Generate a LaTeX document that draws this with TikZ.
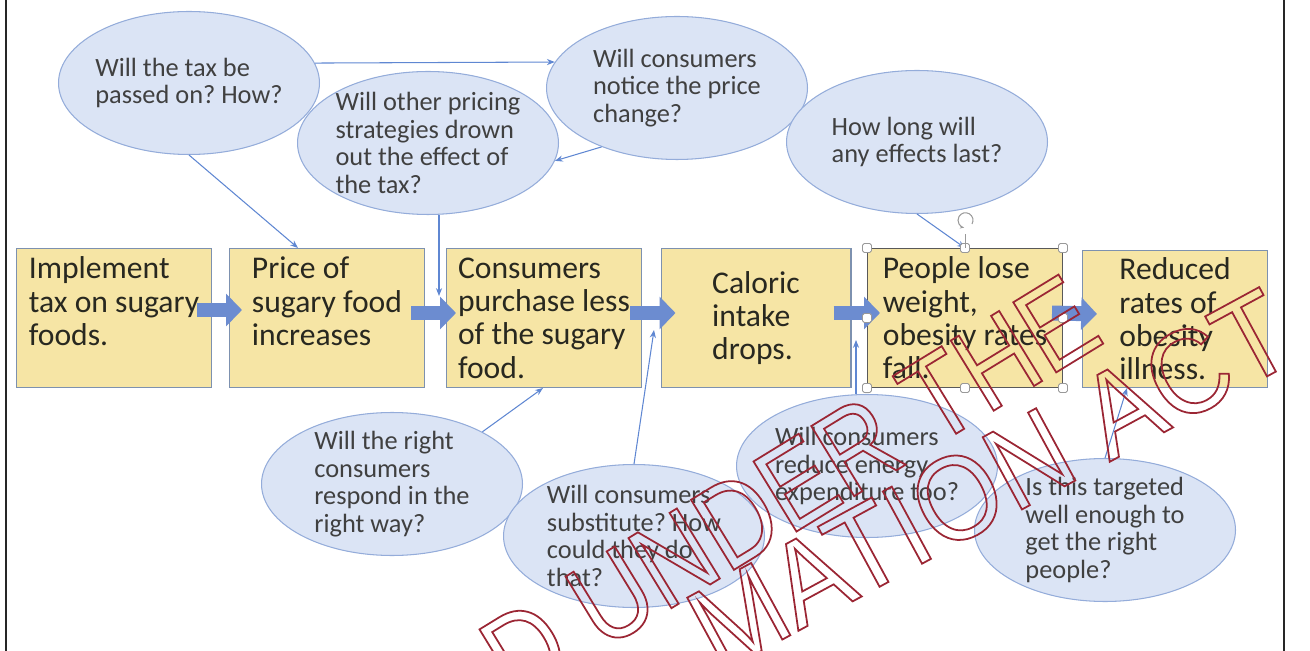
\documentclass[tikz,border=0pt]{standalone}
\usepackage{fontspec}
\setmainfont{Carlito}
\newfontfamily\stampfont[FakeStretch=0.85]{Liberation Sans}
\newfontfamily\stampwide[FakeStretch=0.91]{Liberation Sans}
\usetikzlibrary{positioning,arrows.meta,shapes.geometric,calc}

\definecolor{boxfill}{RGB}{246,229,165}
\definecolor{boxline}{RGB}{125,145,175}
\definecolor{bubblefill}{RGB}{219,228,245}
\definecolor{bubbleline}{RGB}{148,172,218}
\definecolor{flowblue}{RGB}{108,140,208}
\definecolor{linkblue}{RGB}{95,135,210}
\definecolor{stampred}{RGB}{155,38,52}
\definecolor{inkgrey}{RGB}{40,40,32}

% stroked (hollow) letters for the stamp
\newcommand\hollow[1]{\special{pdf:literal direct 1 Tr 1 w}#1\special{pdf:literal direct 0 Tr}}

\begin{document}
\frenchspacing
\begin{tikzpicture}[x=0.02cm,y=-0.02cm,
   stepbox/.style={draw=boxline,fill=boxfill,line width=0.6pt,minimum width=3.9cm,
     minimum height=2.78cm,inner sep=0pt,align=left,text=inkgrey,
     font=\fontsize{18}{19}\selectfont},
   question/.style={ellipse,draw=bubbleline,fill=bubblefill,line width=0.6pt,
     minimum width=5.22cm,minimum height=2.86cm,inner sep=-5pt,align=left,
     text=black!75,font=\fontsize{15}{15.8}\selectfont},
   flow/.style={draw=flowblue,line width=8.5pt,-{Triangle[length=9pt,width=18pt]}},
   link/.style={draw=linkblue,line width=0.6pt,-{Stealth[length=4.5pt,width=3.5pt]}},
   grip/.style={draw=gray!80,fill=white,line width=0.5pt,rounded corners=1pt,
     minimum size=0.18cm,inner sep=0pt},
   stamp/.style={text=stampred,inner sep=0pt,font=\stampfont\fontsize{68}{68}\selectfont}]
  \useasboundingbox (0,0) rectangle (1310,651);

  % page frame
  \draw[black!85,line width=1.2pt] (6,0) -- (6,651);
  \draw[black!85,line width=1.2pt] (1284,0) -- (1284,651);

  % questions above the chain
  \node[question] (e1) at (189,83)  {Will the tax be\\passed on? How?};
  \node[question] (e2) at (428,143) {Will other pricing\\strategies drown\\out the effect of\\the tax?};
  \node[question] (e3) at (677,88)  {Will consumers\\notice the price\\change?};
  \node[question] (e4) at (917,142) {How long will\\any effects last?};

  % questions below the chain
  \node[question] (e5) at (392,484) {Will the right\\consumers\\respond in the\\right way?};
  \node[question] (e7) at (867,466) {Will consumers\\reduce energy\\expenditure too?};
  \node[question] (e6) at (634,536) {Will consumers\\substitute? How\\could they do\\that?};
  \node[question] (e8) at (1105,530) {Is this targeted\\well enough to\\get the right\\people?};

  % the causal chain
  \node[stepbox] (b1) at (114,318) {Implement\\tax on sugary\\foods.\\\mbox{}};
  \node[stepbox] (b2) at (327,318) {Price of\\sugary food\\increases\\\mbox{}};
  \node[stepbox] (b3) at (544,318) {Consumers\\purchase less\\of the sugary\\food.};
  \node[stepbox,minimum width=3.8cm] (b4) at (756,318) {Caloric\\intake\\drops.};
  \node[stepbox,draw=gray!70!black] (b5) at (965,318) {People lose\\weight,\\obesity rates\\fall.};
  \node[stepbox,minimum width=3.7cm,minimum height=2.74cm] (b6) at (1175,319) {Reduced\\rates of\\obesity\\illness.};

  \draw[flow] ($(b1.east)+(-15,-8)$) -- ($(b2.west)+(13,-8)$);
  \draw[flow] ($(b2.east)+(-14,-5)$) -- ($(b3.west)+(10,-5)$);
  \draw[flow] ($(b3.east)+(-12,-5)$) -- ($(b4.west)+(15,-5)$);
  \draw[flow] ($(b4.east)+(-18,-5)$) -- ($(b5.west)+(13,-5)$);
  \draw[flow] ($(b5.east)+(-11,-5)$) -- ($(b6.west)+(15,-5)$);

  % links from the questions
  \coordinate (pricingtip) at (439,296);
  \coordinate (substtip) at (654,330);
  \coordinate (energytip) at (856,340);
  \draw[link] (e1.9.5) -- (e3.168);
  \draw[link] (e1.south) -- ($(b2.north west)+(69,0)$);
  \draw[link] (e3.218) -- (e2.-8);
  \draw[link] (pricingtip |- e2.south) -- (pricingtip);
  \draw[link] (e5.30) -- ($(b3.south west)+(97,0)$);
  \draw[link] (e6.north) -- (substtip);
  \draw[link] (energytip |- e7.north) -- (energytip);
  \draw[link] (e8.north) -- ($(b6.south west)+(45,0)$);
  \draw[link] (e4.south) -- (b5.north);

  % selection handles on the weight box
  \foreach \a in {north west,north,north east,east,south east,south,south west,west}
    \node[grip] at (b5.\a) {};
  \draw[gray!80,line width=0.5pt] (b5.north) -- ++(0,-14) coordinate (rot);
  \draw[gray!80,line width=0.6pt,-{Stealth[length=2.5pt]}] ($(rot)+(7,-10)$)
    arc[start angle=-30,end angle=260,radius=0.15cm];

  % release stamp
  \begin{scope}
    \clip (0,0) rectangle (1310,651);
    \node[stamp,rotate=31.5] (stampa) at (790,488) {\hollow{D UNDER THE}};
    \node[stamp,rotate=28.5,font=\stampwide\fontsize{68}{68}\selectfont] (stampb)
      at (990,480) {\hollow{MATION ACT}};
  \end{scope}
\end{tikzpicture}
\end{document}
